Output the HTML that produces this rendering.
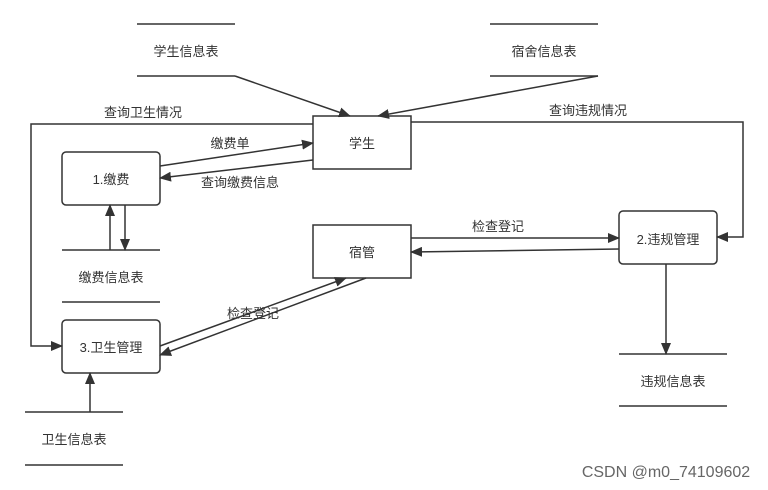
<html><body style="margin:0;background:#fff;width:768px;height:490px;overflow:hidden;font-family:'Liberation Sans','Noto Sans CJK SC',sans-serif">
<svg width="768" height="490" xmlns="http://www.w3.org/2000/svg" style="position:absolute;left:0;top:0">
<defs><marker id="a" markerWidth="12" markerHeight="10" refX="11" refY="5" orient="auto" markerUnits="userSpaceOnUse"><path d="M0,0L12,5L0,10z" fill="#333"/></marker></defs>
<g stroke="#333" stroke-width="1.5" fill="none">
<line x1="137" y1="24" x2="235" y2="24"/><line x1="137" y1="76" x2="235" y2="76"/>
<line x1="490" y1="24" x2="598" y2="24"/><line x1="490" y1="76" x2="598" y2="76"/>
<line x1="62" y1="250" x2="160" y2="250"/><line x1="62" y1="302" x2="160" y2="302"/>
<line x1="619" y1="354" x2="727" y2="354"/><line x1="619" y1="406" x2="727" y2="406"/>
<line x1="25" y1="412" x2="123" y2="412"/><line x1="25" y1="465" x2="123" y2="465"/>
<rect x="313" y="116" width="98" height="53"/>
<rect x="313" y="225" width="98" height="53"/>
<rect x="62" y="152" width="98" height="53" rx="4"/>
<rect x="619" y="211" width="98" height="53" rx="4"/>
<rect x="62" y="320" width="98" height="53" rx="4"/>
<g marker-end="url(#a)">
<line x1="235" y1="76" x2="350" y2="116"/>
<line x1="598" y1="76" x2="378" y2="116"/>
<polyline points="313,124 31,124 31,346 62,346"/>
<polyline points="411,122 743,122 743,237 717,237"/>
<line x1="160" y1="166" x2="313" y2="143"/>
<line x1="313" y1="160" x2="160" y2="178"/>
<line x1="110" y1="250" x2="110" y2="205"/>
<line x1="125" y1="205" x2="125" y2="250"/>
<line x1="411" y1="238" x2="619" y2="238"/>
<line x1="619" y1="249" x2="411" y2="252"/>
<line x1="160" y1="346" x2="346" y2="278"/>
<line x1="366" y1="278" x2="160" y2="355"/>
<line x1="666" y1="264" x2="666" y2="354"/>
<line x1="90" y1="412" x2="90" y2="373"/>
</g></g>
<g font-size="13" fill="#333" text-anchor="middle" font-family="Liberation Sans,Noto Sans CJK SC,sans-serif">
<text x="186" y="56">学生信息表</text><text x="544" y="56">宿舍信息表</text>
<text x="111" y="282">缴费信息表</text><text x="673" y="386">违规信息表</text><text x="74" y="444">卫生信息表</text>
<text x="362" y="148">学生</text><text x="362" y="257">宿管</text>
<text x="111" y="184">1.缴费</text><text x="668" y="244">2.违规管理</text><text x="111" y="352">3.卫生管理</text>
<text x="143" y="117">查询卫生情况</text><text x="588" y="115">查询违规情况</text>
<text x="230" y="148">缴费单</text><text x="240" y="187">查询缴费信息</text>
<text x="498" y="231">检查登记</text><text x="253" y="318">检查登记</text>
<text x="666" y="477" font-size="16" fill="#666">CSDN @m0_74109602</text>
</g></svg></body></html>
